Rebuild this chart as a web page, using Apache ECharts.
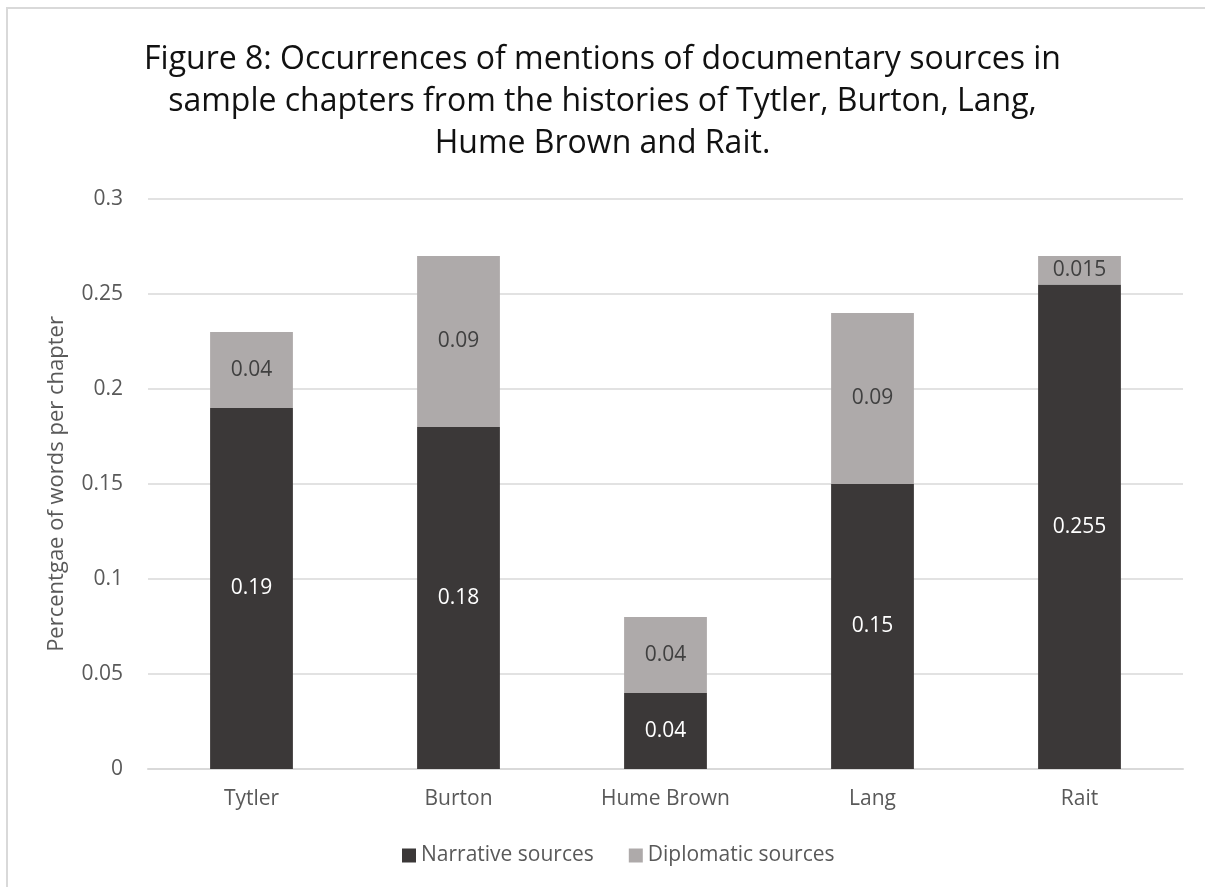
<!DOCTYPE html>
<html>
<head>
<meta charset="utf-8">
<script src="https://cdn.jsdelivr.net/npm/echarts@6/dist/echarts.min.js"></script>
<style>
  html, body { margin: 0; padding: 0; background: #fff; }
  #frame {
    position: absolute; left: 6px; top: 7px; width: 1300px; height: 1000px;
    border-left: 2px solid #d9d9d9; border-top: 2px solid #d9d9d9;
  }
  #chart { position: absolute; left: 0; top: 0; width: 1205px; height: 887px; }
</style>
</head>
<body>
<div id="frame"></div>
<div id="chart"></div>
<script>
var historians = ['Tytler', 'Burton', 'Hume Brown', 'Lang', 'Rait'];
var narrative = [0.19, 0.18, 0.04, 0.15, 0.255];
var diplomatic = [0.04, 0.09, 0.04, 0.09, 0.015];
var yTicks = [0, 0.05, 0.1, 0.15, 0.2, 0.25, 0.3];

var font = '"Open Sans", "Noto Sans", sans-serif';
var chart = echarts.init(document.getElementById('chart'));

var option = {
  backgroundColor: 'transparent',
  animation: false,
  title: {
    text: 'Figure 8: Occurrences of mentions of documentary sources in\nsample chapters from the histories of Tytler, Burton, Lang,\nHume Brown and Rait.',
    left: 'center',
    top: 34,
    textStyle: {
      fontFamily: font,
      fontSize: 32,
      fontWeight: 'normal',
      color: '#111111',
      lineHeight: 42
    }
  },
  legend: {
    top: 840,
    left: 397,
    itemWidth: 14,
    itemHeight: 14,
    itemGap: 35,
    icon: 'rect',
    textStyle: { fontFamily: font, fontSize: 21, color: '#595959' },
    data: ['Narrative sources', 'Diplomatic sources']
  },
  grid: { left: 148, right: 22, top: 199, bottom: 118 },
  xAxis: {
    type: 'category',
    data: historians,
    axisLine: { lineStyle: { color: '#d9d9d9', width: 2 } },
    axisTick: { show: false },
    axisLabel: { fontFamily: font, fontSize: 21, color: '#595959', margin: 20 }
  },
  yAxis: {
    type: 'value',
    min: yTicks[0],
    max: yTicks[yTicks.length - 1],
    interval: 0.05,
    name: 'Percentgae of words per chapter',
    nameLocation: 'middle',
    nameGap: 80,
    nameTextStyle: { fontFamily: font, fontSize: 22, color: '#595959' },
    axisLine: { show: false },
    axisTick: { show: false },
    splitLine: { lineStyle: { color: '#d9d9d9', width: 1.5 } },
    axisLabel: {
      fontFamily: font, fontSize: 21, color: '#595959', margin: 25,
      formatter: function (v) { return String(+v.toFixed(3)); }
    }
  },
  series: [
    {
      name: 'Narrative sources',
      type: 'bar',
      stack: 'total',
      barWidth: '40%',
      itemStyle: { color: '#3b3838' },
      label: {
        show: true, position: 'inside',
        fontFamily: font, fontSize: 21, color: '#ffffff'
      },
      data: narrative
    },
    {
      name: 'Diplomatic sources',
      type: 'bar',
      stack: 'total',
      barWidth: '40%',
      itemStyle: { color: '#aeaaaa' },
      label: {
        show: true, position: 'inside',
        fontFamily: font, fontSize: 21, color: '#404040'
      },
      data: diplomatic
    }
  ]
};
chart.setOption(option);
</script>
</body>
</html>
